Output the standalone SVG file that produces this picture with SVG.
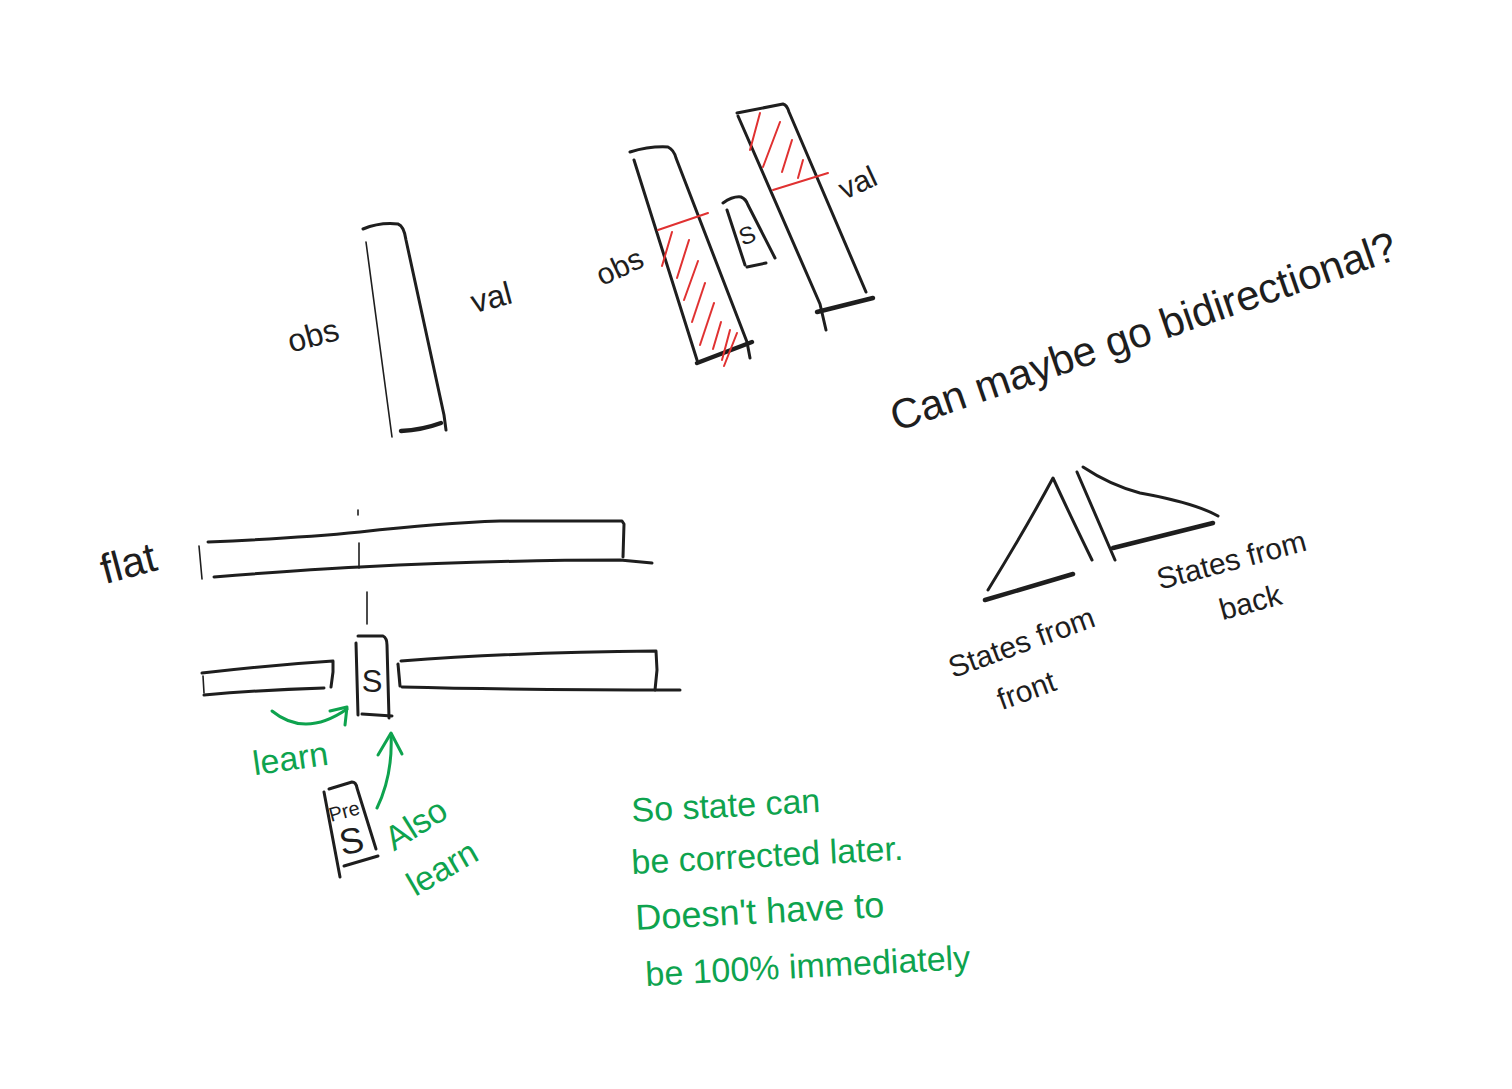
<svg xmlns="http://www.w3.org/2000/svg" width="1512" height="1089" viewBox="0 0 1512 1089">
<style>
.k{fill:none;stroke:#1e1e1e;stroke-width:3;stroke-linecap:round;stroke-linejoin:round}
.kt{fill:none;stroke:#1e1e1e;stroke-width:1.6;stroke-linecap:round}
.kb{fill:none;stroke:#1e1e1e;stroke-width:4.5;stroke-linecap:round}
.r{fill:none;stroke:#e03131;stroke-width:2;stroke-linecap:round}
.g{fill:none;stroke:#0ea34e;stroke-width:3;stroke-linecap:round;stroke-linejoin:round}
.t{font-family:"Liberation Sans",Arial,sans-serif;fill:#1e1e1e}
.gt{font-family:"Liberation Sans",Arial,sans-serif;fill:#0ea34e}
</style>
<rect width="1512" height="1089" fill="#ffffff"/>

<g id="column1">
<path class="k" d="M363,229 Q380,222 398,224 Q404,226 406,240 L444,415 L446,430"/>
<path class="kt" d="M366,242 L392,437"/>
<path class="kb" d="M401,431 Q422,430 441,423"/>
<text class="t" x="316" y="346" font-size="32" text-anchor="middle" transform="rotate(-15 316 346)">obs</text>
<text class="t" x="494" y="308" font-size="32" text-anchor="middle" transform="rotate(-15 494 308)">val</text>
</g>

<g id="flat">
<path class="k" d="M208,542 Q300,538 360,532 Q440,523 500,521 L622,521 L624,524 L623,557"/>
<path class="k" d="M214,577 Q300,570 360,567 Q500,560 620,560 L652,563"/>
<path class="kt" d="M199,546 L202,579"/>
<path class="kt" d="M358,510 L358,515"/>
<path class="kt" d="M359,543 L359,568"/>
<path class="kt" d="M367,592 L367,624"/>
<text class="t" x="132" y="577" font-size="42" text-anchor="middle" transform="rotate(-15 132 577)">flat</text>
</g>

<g id="row-left">
<path class="k" d="M202,673 Q270,665 333,661 L333,672 L331,687"/>
<path class="k" d="M204,695 Q260,690 324,688"/>
<path class="kt" d="M203,676 L204,693"/>
</g>

<g id="s-box">
<path class="k" d="M356,643 L358,715"/>
<path class="k" d="M358,636 L383,636 Q387,638 387,645 L389,718"/>
<path class="k" d="M362,714 L392,716"/>
<text class="t" x="372" y="692" font-size="31" text-anchor="middle">S</text>
</g>

<g id="row-right">
<path class="k" d="M398,664 L400,686"/>
<path class="k" d="M401,661 Q520,652 656,651 L657,670 L655,690"/>
<path class="k" d="M402,687 Q520,690 680,690"/>
</g>

<g id="pre-s">
<path class="k" d="M324,792 L340,877"/>
<path class="k" d="M329,789 L352,782 Q356,782 357,788 L376,849"/>
<path class="k" d="M344,866 L378,856"/>
<text class="t" x="346" y="818" font-size="20" text-anchor="middle" transform="rotate(-15 346 818)">Pre</text>
<text class="t" x="354" y="853" font-size="36" text-anchor="middle" transform="rotate(-12 354 853)">S</text>
</g>

<g id="connectors">
<path class="g" d="M272,711 Q305,738 347,709"/>
<path class="g" d="M330,711 L347,707 L345,725"/>
<path class="g" d="M377,808 Q393,775 391,734"/>
<path class="g" d="M378,755 L391,733 L402,754"/>
</g>

<g id="green-labels">
<text class="gt" x="292" y="770" font-size="34" text-anchor="middle" transform="rotate(-8 292 770)">learn</text>
<text class="gt" x="422" y="834" font-size="34" text-anchor="middle" transform="rotate(-32 422 834)">Also</text>
<text class="gt" x="448" y="878" font-size="34" text-anchor="middle" transform="rotate(-30 448 878)">learn</text>
</g>

<g id="obs-column2">
<path class="k" d="M630,152 Q650,146 668,147 Q674,150 676,158 L747,342 L750,358"/>
<path class="k" d="M634,160 L697,360"/>
<path class="kb" d="M697,363 L752,342"/>
<path class="r" d="M658,230 L708,213"/>
<path class="r" d="M672,232 L662,266"/>
<path class="r" d="M689,240 L677,278"/>
<path class="r" d="M698,261 L684,300"/>
<path class="r" d="M705,283 L692,322"/>
<path class="r" d="M714,303 L700,345"/>
<path class="r" d="M721,322 L713,349"/>
<path class="r" d="M730,330 L722,360"/>
<path class="r" d="M737,333 L724,366"/>
<text class="t" x="624" y="276" font-size="30" text-anchor="middle" transform="rotate(-25 624 276)">obs</text>
</g>

<g id="s-box2">
<path class="k" d="M723,203 Q733,196 741,197 Q746,199 748,205 L775,258"/>
<path class="k" d="M727,210 L745,265"/>
<path class="k" d="M747,267 L766,263"/>
<text class="t" x="750" y="243" font-size="24" text-anchor="middle" transform="rotate(-20 750 243)">S</text>
</g>

<g id="val-column2">
<path class="k" d="M737,113 L783,104 Q787,105 789,112 L866,292"/>
<path class="k" d="M738,116 L820,304 L826,330"/>
<path class="kb" d="M817,312 L873,298"/>
<path class="r" d="M773,190 L828,173"/>
<path class="r" d="M760,113 L750,150"/>
<path class="r" d="M780,122 L763,167"/>
<path class="r" d="M792,140 L782,172"/>
<path class="r" d="M803,160 L798,178"/>
<text class="t" x="862" y="192" font-size="30" text-anchor="middle" transform="rotate(-25 862 192)">val</text>
</g>

<g id="note-bidirectional">
<text class="t" x="1148" y="345" font-size="42" text-anchor="middle" transform="rotate(-19 1148 345)">Can maybe go bidirectional?</text>
</g>

<g id="front-back">
<path class="k" d="M988,590 Q1025,530 1053,478 Q1070,515 1092,560"/>
<path class="kb" d="M985,600 L1073,574"/>
<path class="k" d="M1077,472 L1115,560"/>
<path class="k" d="M1083,467 Q1110,485 1140,493 Q1195,503 1218,516"/>
<path class="kb" d="M1113,548 L1213,523"/>
<text class="t" x="1025" y="652" font-size="30" text-anchor="middle" transform="rotate(-20 1025 652)">States from</text>
<text class="t" x="1030" y="700" font-size="30" text-anchor="middle" transform="rotate(-20 1030 700)">front</text>
<text class="t" x="1234" y="570" font-size="30" text-anchor="middle" transform="rotate(-15 1234 570)">States from</text>
<text class="t" x="1253" y="612" font-size="30" text-anchor="middle" transform="rotate(-15 1253 612)">back</text>
</g>

<g id="green-note">
<text class="gt" x="632" y="822" font-size="34" transform="rotate(-3 632 822)">So  state  can</text>
<text class="gt" x="632" y="874" font-size="34" transform="rotate(-3 632 874)">be  corrected  later.</text>
<text class="gt" x="636" y="930" font-size="36" transform="rotate(-3 636 930)">Doesn't  have  to</text>
<text class="gt" x="646" y="986" font-size="34" transform="rotate(-3 646 986)">be  100%  immediately</text>
</g>
</svg>
